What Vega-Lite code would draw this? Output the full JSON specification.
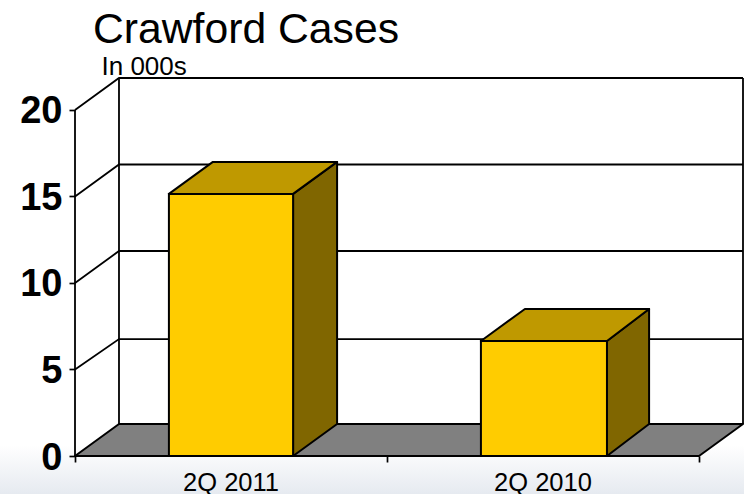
{
  "$schema": "https://vega.github.io/schema/vega-lite/v6.json",
  "width": 668,
  "height": 378,
  "padding": {"left": 75, "top": 78, "right": 1, "bottom": 38},
  "autosize": "none",
  "background": "white",
  "config": {"view": {"stroke": null}, "font": "Liberation Sans"},
  "title": {
    "text": "Crawford Cases",
    "anchor": "start",
    "frame": "group",
    "dx": 18,
    "dy": 43,
    "offset": 10,
    "baseline": "alphabetic",
    "font": "Liberation Sans",
    "fontSize": 42.7,
    "fontWeight": "normal",
    "color": "black"
  },
  "datasets": {
    "fade": [
      {"x": -0.2404, "x2": 2.145, "y": 0.636, "y2": -2.197}
    ],
    "bars": [
      {"quarter": "2Q 2011", "base": 0, "value": 15.15, "left": 0.301, "right": 0.699, "mid": 0.5},
      {"quarter": "2Q 2010", "base": 0, "value": 6.65, "left": 1.301, "right": 1.705, "mid": 1.5}
    ],
    "tops": [
      {"bar": "2Q 2011", "y": 15.15, "x": 0.301, "x2": 0.699},
      {"bar": "2Q 2011", "y": 16.998, "x": 0.442, "x2": 0.84},
      {"bar": "2Q 2010", "y": 6.65, "x": 1.301, "x2": 1.705},
      {"bar": "2Q 2010", "y": 8.498, "x": 1.442, "x2": 1.84}
    ],
    "sides": [
      {"bar": "2Q 2011", "x": 0.699, "y": 0, "y2": 15.15},
      {"bar": "2Q 2011", "x": 0.84, "y": 1.848, "y2": 16.998},
      {"bar": "2Q 2010", "x": 1.705, "y": 0, "y2": 6.65},
      {"bar": "2Q 2010", "x": 1.84, "y": 1.848, "y2": 8.498}
    ],
    "floor": [
      {"y": 0, "x": 0, "x2": 2},
      {"y": 1.848, "x": 0.141, "x2": 2.141}
    ],
    "frame": [
      {"edge": "g5", "x": 0, "y": 5},
      {"edge": "g5", "x": 0.141, "y": 6.76},
      {"edge": "g5", "x": 2.141, "y": 6.76},
      {"edge": "g10", "x": 0, "y": 10},
      {"edge": "g10", "x": 0.141, "y": 11.848},
      {"edge": "g10", "x": 2.141, "y": 11.848},
      {"edge": "g15", "x": 0, "y": 15},
      {"edge": "g15", "x": 0.141, "y": 16.848},
      {"edge": "g15", "x": 2.141, "y": 16.848},
      {"edge": "g20", "x": 0, "y": 20},
      {"edge": "g20", "x": 0.141, "y": 21.848},
      {"edge": "g20", "x": 2.141, "y": 21.848},
      {"edge": "front", "x": 0, "y": 0},
      {"edge": "front", "x": 0, "y": 20},
      {"edge": "backLeft", "x": 0.141, "y": 1.848},
      {"edge": "backLeft", "x": 0.141, "y": 21.848},
      {"edge": "backRight", "x": 2.141, "y": 1.848},
      {"edge": "backRight", "x": 2.141, "y": 21.848}
    ]
  },
  "layer": [
    {
      "description": "Pale fade along the foot of the slide",
      "data": {"name": "fade"},
      "mark": {
        "type": "rect",
        "fill": {
          "gradient": "linear",
          "x1": 0, "y1": 0, "x2": 0, "y2": 1,
          "stops": [
            {"offset": 0, "color": "#ffffff"},
            {"offset": 1, "color": "#e6eaf0"}
          ]
        }
      },
      "encoding": {
        "x": {
          "field": "x",
          "type": "quantitative",
          "scale": {"domain": [0, 2.141], "nice": false, "zero": false},
          "axis": {
            "values": [0, 1, 2],
            "labels": false,
            "title": null,
            "domain": false,
            "grid": false,
            "tickSize": 6,
            "tickWidth": 1.7,
            "tickColor": "black",
            "zindex": 1
          }
        },
        "x2": {"field": "x2"},
        "y": {
          "field": "y",
          "type": "quantitative",
          "scale": {"domain": [0, 21.848], "nice": false, "zero": false},
          "axis": {
            "values": [0, 5, 10, 15, 20],
            "title": "In 000s",
            "titleX": 26,
            "titleY": -4,
            "titleAngle": 0,
            "titleAlign": "left",
            "titleBaseline": "alphabetic",
            "titleFont": "Liberation Sans",
            "titleFontSize": 26,
            "titleFontWeight": "normal",
            "titleColor": "black",
            "domain": false,
            "grid": false,
            "tickSize": 6,
            "tickWidth": 1.7,
            "tickColor": "black",
            "labelFont": "Liberation Sans",
            "labelFontSize": 38,
            "labelFontWeight": "bold",
            "labelColor": "black",
            "labelPadding": 7,
            "labelOffset": 2,
            "labelFlush": false,
            "labelOverlap": false,
            "labelBound": false,
            "zindex": 1
          }
        },
        "y2": {"field": "y2"}
      }
    },
    {
      "description": "Floor of the box",
      "data": {"name": "floor"},
      "mark": {"type": "area", "orient": "horizontal", "fill": "#808080", "stroke": "black", "strokeWidth": 2, "strokeJoin": "round"},
      "encoding": {
        "y": {"field": "y", "type": "quantitative"},
        "x": {"field": "x", "type": "quantitative"},
        "x2": {"field": "x2"}
      }
    },
    {
      "description": "Gridlines running across the side and back walls, plus the wall edges",
      "data": {"name": "frame"},
      "mark": {"type": "line", "stroke": "black", "strokeWidth": 1.8},
      "encoding": {
        "x": {"field": "x", "type": "quantitative"},
        "y": {"field": "y", "type": "quantitative"},
        "detail": {"field": "edge"},
        "order": {"field": "y"}
      }
    },
    {
      "description": "Right-hand faces of the columns",
      "data": {"name": "sides"},
      "mark": {"type": "area", "fill": "#806600", "stroke": "black", "strokeWidth": 2, "strokeJoin": "round"},
      "encoding": {
        "x": {"field": "x", "type": "quantitative"},
        "y": {"field": "y", "type": "quantitative"},
        "y2": {"field": "y2"},
        "detail": {"field": "bar"}
      }
    },
    {
      "description": "Top faces of the columns",
      "data": {"name": "tops"},
      "mark": {"type": "area", "orient": "horizontal", "fill": "#bf9900", "stroke": "black", "strokeWidth": 2, "strokeJoin": "round"},
      "encoding": {
        "y": {"field": "y", "type": "quantitative"},
        "x": {"field": "x", "type": "quantitative"},
        "x2": {"field": "x2"},
        "detail": {"field": "bar"}
      }
    },
    {
      "description": "Front faces of the columns",
      "data": {"name": "bars"},
      "mark": {"type": "rect", "fill": "#ffcc00", "stroke": "black", "strokeWidth": 2},
      "encoding": {
        "x": {"field": "left", "type": "quantitative"},
        "x2": {"field": "right"},
        "y": {"field": "base", "type": "quantitative"},
        "y2": {"field": "value"}
      }
    },
    {
      "description": "Quarter names under the columns",
      "data": {"name": "bars"},
      "mark": {"type": "text", "dy": 35, "baseline": "alphabetic", "align": "center", "font": "Liberation Sans", "fontSize": 25.5, "color": "black"},
      "encoding": {
        "x": {"field": "mid", "type": "quantitative"},
        "y": {"field": "base", "type": "quantitative"},
        "text": {"field": "quarter"}
      }
    }
  ]
}
